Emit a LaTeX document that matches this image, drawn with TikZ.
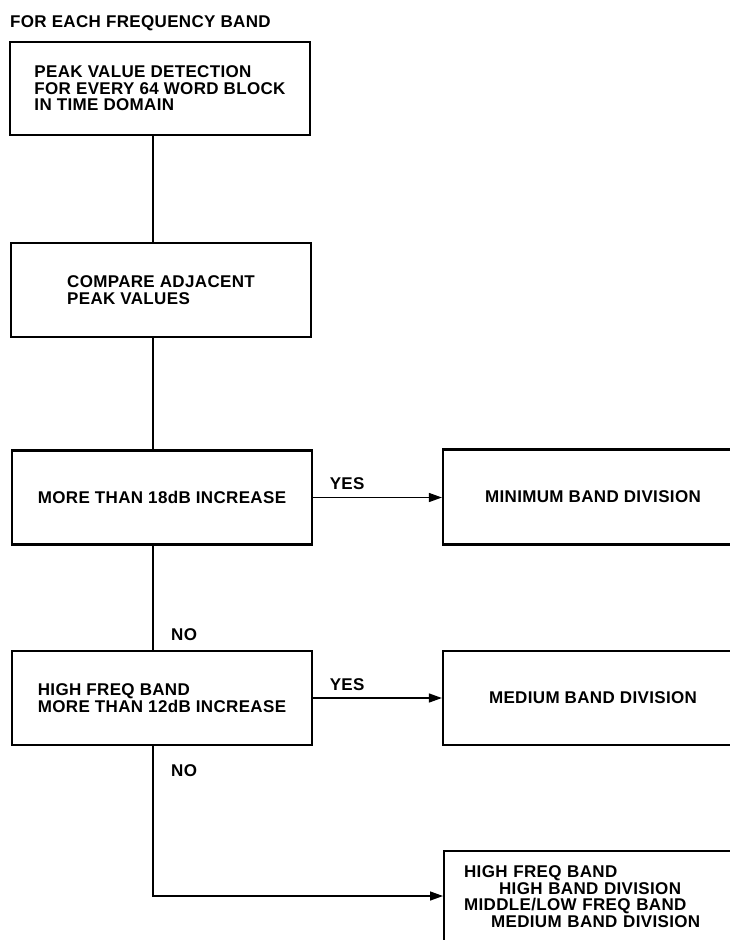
\documentclass[tikz,border=0pt]{standalone}
\usepackage{fontspec}
\setmainfont{Liberation Sans}[LetterSpace=2]
\usetikzlibrary{arrows.meta,positioning}

\begin{document}
\begin{tikzpicture}[x=1pt, y=-1pt,
    font=\fontsize{17}{16.5}\selectfont\bfseries,
    stagebox/.style={draw, line width=2.2pt, rectangle, align=left,
        minimum width=300pt, minimum height=94pt, inner sep=0pt},
    lbl/.style={inner sep=0pt},
    flow/.style={line width=1.4pt},
    flowarrow/.style={flow, -{Triangle[length=13pt,width=9pt]}}]
    \useasboundingbox (0,0) rectangle (730,940);
    \clip (0,0) rectangle (730,940);

    % Heading
    \node[lbl, anchor=base west] (title) at (10,27) {FOR EACH FREQUENCY BAND};

    % Left column
    \node[stagebox, minimum height=93pt] (detect) at (160,88.5)
        {PEAK VALUE DETECTION\\FOR EVERY 64 WORD BLOCK\\IN TIME DOMAIN};
    \node[stagebox] (compare) at (161,290) {COMPARE ADJACENT\\PEAK VALUES};
    \node[stagebox] (inc18) at (162,497.5) {MORE THAN 18dB INCREASE};
    \node[stagebox] (inc12) at (162,698)
        {HIGH FREQ BAND\\MORE THAN 12dB INCREASE};

    % Right column
    \node[stagebox, minimum height=95pt] (minband) at (593,497) {MINIMUM BAND DIVISION};
    \node[stagebox] (medband) at (593,698) {MEDIUM BAND DIVISION};
    \node[stagebox, anchor=north west, inner xsep=20pt, inner ysep=15pt,
        minimum height=0pt, text width=260pt] (mixband) at (443,850)
        {HIGH FREQ BAND\\\hspace*{35pt}HIGH BAND DIVISION\\MIDDLE/LOW FREQ BAND\\\hspace*{27pt}MEDIUM BAND DIVISION\\\rule{0pt}{40pt}};

    % Main line down the left column
    \coordinate (spine) at (153,0);
    \coordinate (no1) at (inc12.north -| spine);
    \coordinate (no2) at (inc12.south -| spine);

    \draw[flow] (detect.south -| spine) -- (compare.north -| spine);
    \draw[flow] (compare.south -| spine) -- (inc18.north -| spine);
    \draw[flow] (inc18.south -| spine) -- (no1);
    \node[lbl, above right=9pt and 18pt of no1] (no1lbl) {NO};

    % Yes branches
    \draw[flowarrow] (inc18.east) -- node[lbl, pos=0, above right=7pt and 16pt] {YES}
        (inc18.east -| minband.west);
    \draw[flowarrow] (inc12.east) -- node[lbl, pos=0, above right=7pt and 16pt] {YES}
        (inc12.east -| medband.west);

    % Last no branch
    \draw[flowarrow] (no2) |- ([yshift=-46pt]mixband.north west);
    \node[lbl, below right=18pt and 18pt of no2] (no2lbl) {NO};
\end{tikzpicture}
\end{document}
